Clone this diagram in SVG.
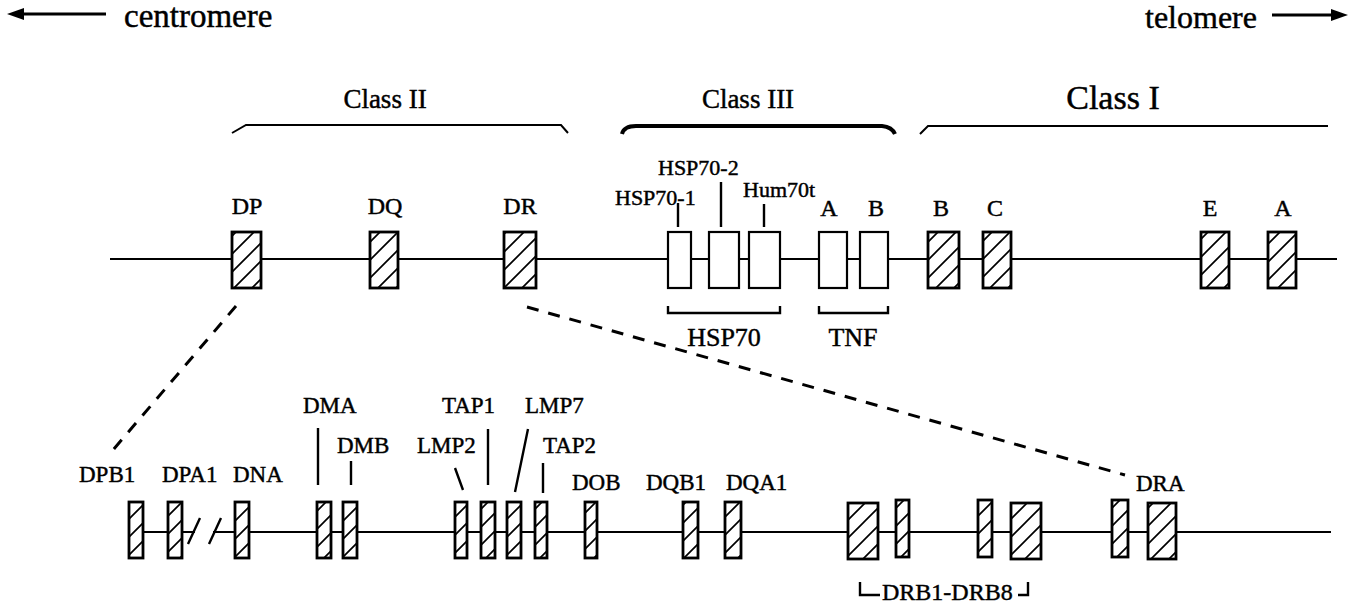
<svg xmlns="http://www.w3.org/2000/svg" width="1359" height="605" viewBox="0 0 1359 605">
<style>
text{font-family:"Liberation Serif","Times New Roman",serif;fill:#000;stroke:#000;stroke-width:0.45}
.lb{font-size:24px}
.sm{font-size:22px}
.bt{font-size:23px}
.hb{fill:url(#h);stroke:#000;stroke-width:2.8}
.wb{fill:#fff;stroke:#000;stroke-width:2.2}
.ln{stroke:#000;stroke-width:2;fill:none}
.tk{stroke:#000;stroke-width:2.4;fill:none}
.ds{stroke:#000;stroke-width:3;fill:none;stroke-dasharray:12 10}
</style>
<defs>
<pattern id="h" patternUnits="userSpaceOnUse" width="18" height="18">
<rect width="18" height="18" fill="#fff"/>
<path d="M-3,3 L3,-3 M0,18 L18,0 M15,21 L21,15" stroke="#000" stroke-width="1.7"/>
</pattern>
</defs>
<g id="orientation">
<path d="M22,14 L106,14" stroke="#000" stroke-width="3"/>
<polygon points="7,14 24,8 24,20" fill="#000"/>
<text x="124" y="27" style="font-size:33px">centromere</text>
<text x="1145" y="28" style="font-size:32px">telomere</text>
<path d="M1272,15 L1333,15" stroke="#000" stroke-width="3"/>
<polygon points="1348,15 1331,9 1331,21" fill="#000"/>
</g>
<g id="classes">
<text x="385" y="108" text-anchor="middle" style="font-size:27px">Class II</text>
<text x="748" y="108" text-anchor="middle" style="font-size:27px">Class III</text>
<text x="1113" y="109" text-anchor="middle" style="font-size:34px">Class I</text>
<path d="M232,133 L246,125 L561,125 L568,133" class="ln" stroke-width="2.6"/>
<path d="M622,134 Q624,126 636,126 L882,126 Q892,127 895,134" fill="none" stroke="#000" stroke-width="4"/>
<path d="M920,134 L928,126 L1328,126" class="ln" stroke-width="2.6"/>
</g>
<g id="connectors">
<path d="M110,259 L1337,259" class="ln"/>
<path d="M129,532 L195,532 M213,532 L1331,532" class="ln"/>
<path d="M188,544 L200,518 M209,544 L221,518" class="tk" stroke-width="3"/>
<path d="M236,306 L113,450" class="ds"/>
<path d="M527,307 L1125,475" class="ds"/>
<path d="M678,203 L678,227 M721,182 L721,227 M764,204 L764,227" class="tk" stroke-width="2"/>
<path d="M668,306 L668,313 L780,313 L780,306 M819,306 L819,313 L888,313 L888,306" class="tk" stroke-width="2"/>
<path d="M318,428 L318,485 M351,461 L351,485 M455,468 L463,490 M488,429 L488,485 M528,429 L515,492 M543,463 L543,493" class="tk"/>
<path d="M860,582 L860,595 L880,595 M1018,595 L1028,595 L1028,582" class="tk" stroke-width="2"/>
</g>
<g id="DP"><rect x="232" y="232" width="29" height="56" class="hb"/><text x="247" y="214" text-anchor="middle" class="lb">DP</text></g>
<g id="DQ"><rect x="370" y="232" width="28" height="56" class="hb"/><text x="385" y="214" text-anchor="middle" class="lb">DQ</text></g>
<g id="DR"><rect x="504" y="232" width="32" height="56" class="hb"/><text x="520" y="214" text-anchor="middle" class="lb">DR</text></g>
<g id="HSP70-1"><rect x="668" y="232" width="23" height="56" class="wb"/><text x="615" y="205" class="sm">HSP70-1</text></g>
<g id="HSP70-2"><rect x="709" y="232" width="30" height="56" class="wb"/><text x="658" y="175" class="sm">HSP70-2</text></g>
<g id="Hum70t"><rect x="749" y="232" width="31" height="56" class="wb"/><text x="743" y="197" class="sm">Hum70t</text></g>
<g id="TNF-A"><rect x="819" y="232" width="28" height="56" class="wb"/><text x="829" y="216" text-anchor="middle" class="lb">A</text></g>
<g id="TNF-B"><rect x="860" y="232" width="28" height="56" class="wb"/><text x="876" y="216" text-anchor="middle" class="lb">B</text></g>
<g id="HSP70"><text x="724" y="346" text-anchor="middle" style="font-size:26px">HSP70</text></g>
<g id="TNF"><text x="853" y="346" text-anchor="middle" style="font-size:26px">TNF</text></g>
<g id="class1-B"><rect x="928" y="232" width="31" height="56" class="hb"/><text x="941" y="216" text-anchor="middle" class="lb">B</text></g>
<g id="class1-C"><rect x="983" y="232" width="28" height="56" class="hb"/><text x="995" y="216" text-anchor="middle" class="lb">C</text></g>
<g id="class1-E"><rect x="1201" y="232" width="28" height="56" class="hb"/><text x="1210" y="216" text-anchor="middle" class="lb">E</text></g>
<g id="class1-A"><rect x="1268" y="232" width="28" height="56" class="hb"/><text x="1283" y="216" text-anchor="middle" class="lb">A</text></g>
<g id="DPB1"><rect x="129" y="502" width="14" height="56" class="hb"/><text x="79" y="482" class="bt">DPB1</text></g>
<g id="DPA1"><rect x="168" y="502" width="14" height="56" class="hb"/><text x="162" y="482" class="bt">DPA1</text></g>
<g id="DNA"><rect x="235" y="502" width="14" height="56" class="hb"/><text x="233" y="482" class="bt">DNA</text></g>
<g id="DMA"><rect x="317" y="502" width="14" height="56" class="hb"/><text x="303" y="413" class="bt">DMA</text></g>
<g id="DMB"><rect x="343" y="502" width="14" height="56" class="hb"/><text x="337" y="453" class="bt">DMB</text></g>
<g id="LMP2"><rect x="455" y="502" width="12" height="56" class="hb"/><text x="417" y="453" class="bt">LMP2</text></g>
<g id="TAP1"><rect x="481" y="502" width="14" height="56" class="hb"/><text x="442" y="413" class="bt">TAP1</text></g>
<g id="LMP7"><rect x="507" y="502" width="14" height="56" class="hb"/><text x="525" y="413" class="bt">LMP7</text></g>
<g id="TAP2"><rect x="535" y="502" width="12" height="56" class="hb"/><text x="543" y="453" class="bt">TAP2</text></g>
<g id="DOB"><rect x="585" y="502" width="12" height="56" class="hb"/><text x="572" y="490" class="bt">DOB</text></g>
<g id="DQB1"><rect x="683" y="502" width="15" height="56" class="hb"/><text x="646" y="490" class="bt">DQB1</text></g>
<g id="DQA1"><rect x="725" y="502" width="16" height="56" class="hb"/><text x="726" y="490" class="bt">DQA1</text></g>
<g id="DRB"><rect x="848" y="503" width="30" height="56" class="hb"/><rect x="896" y="500" width="13" height="57" class="hb"/><rect x="978" y="500" width="14" height="57" class="hb"/><rect x="1011" y="503" width="30" height="56" class="hb"/><text x="882" y="600" style="font-size:24px">DRB1-DRB8</text></g>
<g id="DRA"><rect x="1112" y="500" width="16" height="57" class="hb"/><rect x="1148" y="503" width="28" height="56" class="hb"/><text x="1136" y="491" class="bt">DRA</text></g>
</svg>
